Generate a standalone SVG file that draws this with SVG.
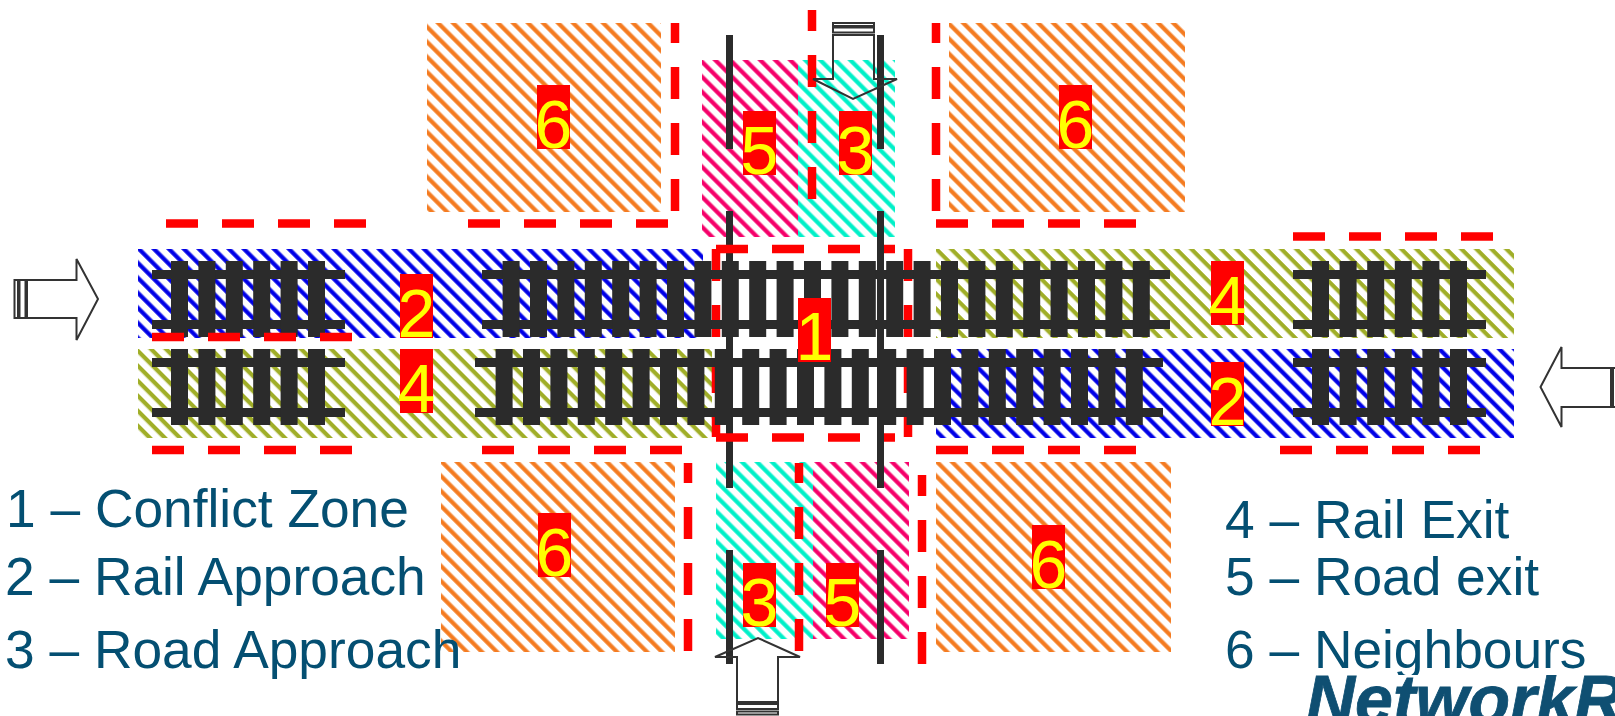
<svg xmlns="http://www.w3.org/2000/svg" width="1615" height="716" viewBox="0 0 1615 716">
<style>
text{font-family:"Liberation Sans",Arial,sans-serif}
.leg{font-size:53.300px;fill:#044f72}
.num{font-size:68px;fill:#ffff00;text-anchor:middle}
.box{fill:#ff0000}
.rail{stroke:#2b2b2b;stroke-width:9;fill:none}
.sl{stroke:#2b2b2b;stroke-width:76;stroke-dasharray:17 10.4;fill:none}
.sls{stroke:#2b2b2b;stroke-width:76;stroke-dasharray:17 10.6;fill:none}
.road{stroke:#2b2b2b;stroke-width:7;fill:none}
.dash{stroke:#ff0000;stroke-width:8.500;stroke-dasharray:32 24;fill:none}
.arr{fill:none;stroke:#333;stroke-width:2}
</style>
<defs>
<pattern id="hB" width="15" height="10.610" patternUnits="userSpaceOnUse" patternTransform="rotate(45)"><rect width="15" height="10.610" fill="#fff"/><rect y="1.400" width="15" height="4.200" fill="#0000e6"/></pattern>
<pattern id="hG" width="15" height="10.610" patternUnits="userSpaceOnUse" patternTransform="rotate(45)"><rect width="15" height="10.610" fill="#fff"/><rect y="0" width="15" height="4.200" fill="#a0ae28"/></pattern>
<pattern id="hP" width="15" height="10.610" patternUnits="userSpaceOnUse" patternTransform="rotate(45)"><rect width="15" height="10.610" fill="#fff"/><rect y="1.400" width="15" height="4.200" fill="#f5006a"/></pattern>
<pattern id="hT" width="15" height="10.610" patternUnits="userSpaceOnUse" patternTransform="rotate(45)"><rect width="15" height="10.610" fill="#fff"/><rect y="1.400" width="15" height="4.200" fill="#00f0c8"/></pattern>
<pattern id="hO" width="15" height="10.610" patternUnits="userSpaceOnUse" patternTransform="rotate(45)"><rect width="15" height="10.610" fill="#fff"/><rect y="1.400" width="15" height="4.200" fill="#f47b20"/></pattern>
<clipPath id="logoClip"><rect x="1295" y="675" width="320" height="41"/></clipPath>
</defs>

<g id="zones">
<rect x="427" y="23" width="234" height="189" fill="url(#hO)"/>
<rect x="949" y="23" width="236" height="189" fill="url(#hO)"/>
<rect x="441" y="462" width="234" height="190" fill="url(#hO)"/>
<rect x="936" y="462" width="235" height="190" fill="url(#hO)"/>
<rect x="702" y="60" width="96" height="177" fill="url(#hP)"/>
<rect x="798" y="60" width="97" height="177" fill="url(#hT)"/>
<rect x="716" y="462" width="97" height="177" fill="url(#hT)"/>
<rect x="813" y="462" width="96" height="177" fill="url(#hP)"/>
<rect x="138" y="249" width="565" height="89" fill="url(#hB)"/>
<rect x="936" y="249" width="578" height="89" fill="url(#hG)"/>
<rect x="138" y="349" width="574" height="89" fill="url(#hG)"/>
<rect x="936" y="349" width="578" height="89" fill="url(#hB)"/>
</g>

<g id="conflict-sides">
<path class="dash" d="M716 249V437M908 249V437"/>
</g>

<g id="roads">
<path class="road" d="M729.500 35V149M880.500 35V149M729.500 211V488M880.500 211V488M729.500 550V664M880.500 550V664"/>
</g>

<g id="tracks">
<path class="rail" d="M152 274.500H345M152 324.500H345M152 362.500H345M152 412.500H345"/>
<path class="sl" d="M171 299H327M171 387H327"/>
<path class="rail" d="M482 274.500H1170M482 324.500H1170M475 362.500H1163M475 412.500H1163"/>
<path class="sl" d="M502.600 299H1151M495.600 387H1144"/>
<path class="rail" d="M1293 274.500H1486M1293 324.500H1486M1293 362.500H1486M1293 412.500H1486"/>
<path class="sls" d="M1312 299H1468M1312 387H1468"/>
</g>

<g id="boundaries">
<path class="dash" d="M675 23V43M675 67V211M936 23V43M936 67V211"/>
<path class="dash" d="M812 10V31M812 55V199"/>
<path class="dash" d="M688 463V483M688 507V651M799 463V483M799 507V651"/>
<path class="dash" d="M922 475V496M922 520V664"/>
<path class="dash" d="M468 223.500H669M936 223.500H1137M166 223.500H367M1293 236.500H1494"/>
<path class="dash" d="M152 337H353M152 450H353M482 450H683M936 450H1137M1280 450H1481"/>
<path class="dash" d="M716 249H895M716 437.500H895"/>
</g>

<g id="arrows">
<g id="arrow-right"><path class="arr" d="M27 280H76.500V259L98 299L76.500 340V318H27Z"/><rect class="arr" x="19.500" y="280" width="6" height="38"/><rect class="arr" x="14.500" y="280" width="3.500" height="38" stroke-width="2.500"/></g>
<g id="arrow-left"><path class="arr" d="M1611 368H1561.500V347L1540.500 387L1561.500 427V407H1611Z"/><rect class="arr" x="1613" y="368" width="6" height="39"/></g>
<g id="arrow-down"><path class="arr" d="M833 35V79H813L853 99L897 79H874V35Z"/><rect class="arr" x="833" y="27.500" width="41" height="5"/><rect class="arr" x="833" y="23" width="41" height="3" stroke-width="2.500"/></g>
<g id="arrow-up"><path class="arr" d="M737 702V657H715L758 638L800 657H778V702Z"/><rect class="arr" x="737" y="704" width="41" height="5"/><rect class="arr" x="737" y="711.500" width="41" height="3" stroke-width="2.500"/></g>
</g>

<g id="label-zone1"><rect class="box" x="798" y="298" width="33" height="64"/><text class="num" x="814.500" y="360">1</text></g>
<g id="label-2a"><rect class="box" x="400" y="274" width="33" height="64"/><text class="num" x="416.500" y="337">2</text></g>
<g id="label-4a"><rect class="box" x="400" y="349" width="33" height="64"/><text class="num" x="416.500" y="412">4</text></g>
<g id="label-4b"><rect class="box" x="1211" y="261" width="33" height="64"/><text class="num" x="1227.500" y="324">4</text></g>
<g id="label-2b"><rect class="box" x="1211" y="362" width="33" height="64"/><text class="num" x="1227.500" y="425">2</text></g>
<g id="label-5a"><rect class="box" x="743" y="111" width="33" height="64"/><text class="num" x="759.500" y="174">5</text></g>
<g id="label-3a"><rect class="box" x="839" y="111" width="33" height="64"/><text class="num" x="855.500" y="174">3</text></g>
<g id="label-3b"><rect class="box" x="743" y="563" width="33" height="64"/><text class="num" x="759.500" y="626">3</text></g>
<g id="label-5b"><rect class="box" x="826" y="563" width="33" height="64"/><text class="num" x="842.500" y="626">5</text></g>
<g id="label-6a"><rect class="box" x="537" y="85" width="33" height="64"/><text class="num" x="553.500" y="148">6</text></g>
<g id="label-6b"><rect class="box" x="1059" y="85" width="33" height="64"/><text class="num" x="1075.500" y="148">6</text></g>
<g id="label-6c"><rect class="box" x="538" y="513" width="33" height="64"/><text class="num" x="554.500" y="576">6</text></g>
<g id="label-6d"><rect class="box" x="1032" y="525" width="33" height="64"/><text class="num" x="1048.500" y="588">6</text></g>

<g id="legend">
<text class="leg" x="6" y="527">1 – Conflict Zone</text>
<text class="leg" x="5" y="595">2 – Rail Approach</text>
<text class="leg" x="5" y="668">3 – Road Approach</text>
<text class="leg" x="1225" y="538">4 – Rail Exit</text>
<text class="leg" x="1225" y="595">5 – Road exit</text>
<text class="leg" x="1225" y="668">6 – Neighbours</text>
</g>
<g id="logo">
<rect x="1295" y="675" width="320" height="41" fill="#fff"/>
<g clip-path="url(#logoClip)"><text x="1306" y="723" font-size="68" font-weight="bold" font-style="italic" fill="#0f4f72" stroke="#0f4f72" stroke-width="0.800">NetworkR</text></g>
</g>
</svg>
